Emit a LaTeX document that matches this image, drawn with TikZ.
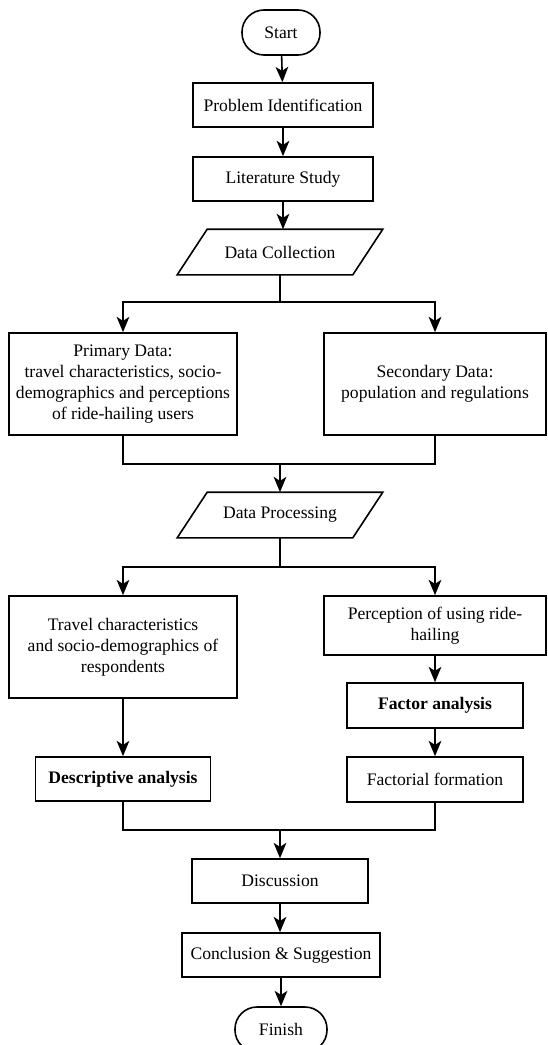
\documentclass[tikz,border=0pt]{standalone}
\usepackage{fontspec}
\setmainfont{Liberation Serif}
\usetikzlibrary{arrows.meta,positioning}
\tikzset{every picture/.style={line width=1.2pt}}
\tikzset{
  boxfont/.style={font=\fontsize{13.2}{15.75}\selectfont},
  procbox/.style={draw, rectangle, align=center, inner sep=2pt, boxfont},
  iobox/.style={rectangle, minimum width=130.5pt, minimum height=33pt, inner sep=2pt, boxfont},
  termbox/.style={draw, rectangle, rounded corners=16.5pt, minimum height=33.75pt,
    inner sep=2pt, boxfont},
  arr/.style={-{Stealth[length=11.5pt,width=9.5pt,inset=3pt]}}
}
% slanted outline round an iobox node
\newcommand{\ioshape}[1]{%
  \draw ([xshift=11.25pt]#1.north west) -- ([xshift=11.25pt]#1.north east)
     -- ([xshift=-11.25pt]#1.south east) -- ([xshift=-11.25pt]#1.south west) -- cycle;}

\begin{document}
\begin{tikzpicture}[x=0.75pt, y=-0.75pt]
    \useasboundingbox (0,0) rectangle (547,1045);

    % start and preparation
    \node[termbox, minimum width=58.5pt] (start) at (281,32.5) {Start};
    \node[procbox, minimum width=135pt, minimum height=33pt] (probl) at (283,105) {Problem Identification};
    \node[procbox, minimum width=135pt, minimum height=33pt] (litst) at (283,179) {Literature Study};
    \node[iobox] (dcoll) at (280,252) {Data Collection};
    \ioshape{dcoll}

    % data sources
    \node[procbox, minimum width=171pt, minimum height=76.5pt] (prim) at (123,384)
        {Primary Data:\\ travel characteristics, socio-\\ demographics and perceptions\\ of ride-hailing users};
    \node[procbox, minimum width=166.5pt, minimum height=76.5pt] (secd) at (435,384)
        {Secondary Data:\\ population and regulations};
    \coordinate (split1) at (280,302);
    \coordinate (merge1) at (280,464);

    % processing
    \node[iobox] (dproc) at (280,515) {Data Processing};
    \ioshape{dproc}
    \coordinate (split2) at (280,567);
    \node[procbox, minimum width=171pt, minimum height=76.5pt] (trav) at (123,647)
        {Travel characteristics\\ and socio-demographics of\\ respondents};
    \node[procbox, minimum width=166.5pt, minimum height=44.25pt] (perc) at (435,625.5)
        {Perception of using ride-\\ hailing};
    \node[procbox, minimum width=132pt, minimum height=33.75pt] (facta) at (435,705.5) {\textbf{Factor analysis}};
    \node[procbox, minimum width=132pt, minimum height=33.75pt] (factf) at (435,779.5) {Factorial formation};
    \node[procbox, minimum width=131.25pt, minimum height=33pt] (desc) at (123,779) {\textbf{Descriptive analysis}};
    \coordinate (merge2) at (280,830);

    % closing
    \node[procbox, minimum width=132pt, minimum height=33pt] (disc) at (280,881) {Discussion};
    \node[procbox, minimum width=148.5pt, minimum height=33pt] (concl) at (281,955) {Conclusion \& Suggestion};
    \node[termbox, minimum width=69pt] (finish) at (281,1029.5) {Finish};

    % connectors
    \draw[arr] (start) -- (probl);
    \draw[arr] (probl) -- (litst);
    \draw[arr] (litst.south) -- (litst.south |- dcoll.north);
    \draw (dcoll) -- (split1);
    \draw[arr] (split1) -| (prim.north);
    \draw[arr] (split1) -| (secd.north);
    \draw (prim.south) |- (merge1);
    \draw (secd.south) |- (merge1);
    \draw[arr] (merge1) -- (dproc);
    \draw (dproc) -- (split2);
    \draw[arr] (split2) -| (trav.north);
    \draw[arr] (split2) -| (perc.north);
    \draw[arr] (trav) -- (desc);
    \draw[arr] (perc) -- (facta);
    \draw[arr] (facta) -- (factf);
    \draw (desc.south) |- (merge2);
    \draw (factf.south) |- (merge2);
    \draw[arr] (merge2) -- (disc.north);
    \draw[arr] (disc.south) -- (disc.south |- concl.north);
    \draw[arr] (concl) -- (finish);
\end{tikzpicture}
\end{document}
